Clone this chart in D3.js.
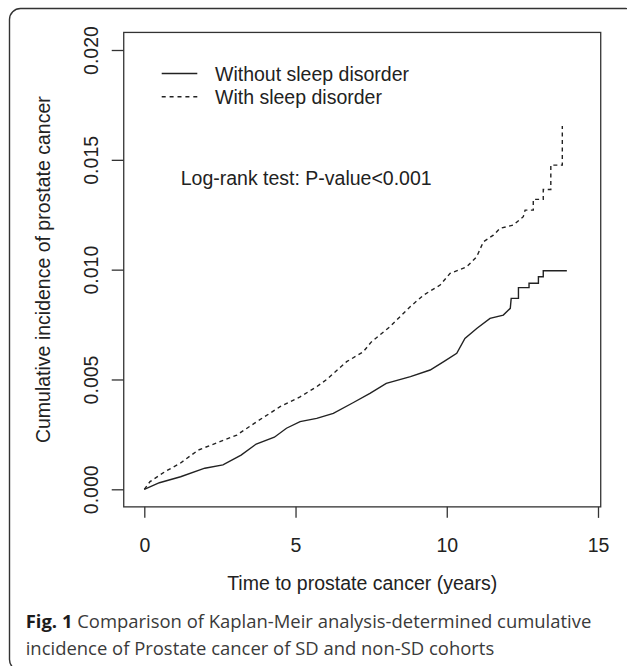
<!DOCTYPE html>
<html>
<head>
<meta charset="utf-8">
<script src="https://cdn.jsdelivr.net/npm/d3@7"></script>
<style>
  html, body { margin: 0; padding: 0; background: #fff; }
  svg { display: block; }
</style>
</head>
<body>
<svg id="chart" width="627" height="666"></svg>
<script>
// ---- data ----
// Without sleep disorder (solid)
const noSdTime = [0, 0.5, 1.2, 2.0, 2.6, 3.2, 3.7, 4.3, 4.7, 5.15, 5.7, 6.25, 6.9, 7.46, 8.0, 8.8, 9.45, 9.9, 10.33, 10.6, 11.0, 11.43, 11.87, 12.1, 12.13, 12.37, 12.37, 12.72, 12.72, 13.03, 13.03, 13.19, 13.19, 13.97];
const noSdValue = [0, 0.00030, 0.00057, 0.00096, 0.00111, 0.00156, 0.00206, 0.00237, 0.00278, 0.00308, 0.00323, 0.00346, 0.00394, 0.00437, 0.00482, 0.00513, 0.00543, 0.00581, 0.00619, 0.00687, 0.00733, 0.00778, 0.00793, 0.00824, 0.00869, 0.00869, 0.00918, 0.00918, 0.00938, 0.00938, 0.00968, 0.00968, 0.00995, 0.00995];
// With sleep disorder (dashed)
const sdTime = [0, 0.19, 0.68, 1.18, 1.79, 2.5, 3.06, 3.72, 4.49, 5.15, 5.7, 6.03, 6.69, 7.24, 7.5, 8.12, 8.79, 9.23, 9.78, 10.11, 10.66, 10.99, 11.21, 11.54, 11.76, 12.2, 12.53, 12.59, 12.86, 12.86, 13.19, 13.19, 13.44, 13.44, 13.82, 13.82];
const sdValue = [0, 0.00035, 0.00080, 0.00118, 0.00179, 0.00217, 0.00247, 0.00308, 0.00376, 0.00421, 0.00467, 0.00500, 0.00581, 0.00626, 0.00670, 0.00740, 0.00831, 0.00884, 0.00930, 0.00983, 0.01013, 0.01059, 0.01127, 0.01157, 0.01188, 0.01203, 0.01241, 0.01271, 0.01271, 0.01320, 0.01320, 0.01365, 0.01365, 0.01476, 0.01476, 0.01654];

const xTicks = [0, 5, 10, 15];
const yTicks = [0, 0.005, 0.010, 0.015, 0.020];
const legendLabels = ["Without sleep disorder", "With sleep disorder"];
const annotation = "Log-rank test: P-value<0.001";
const xTitle = "Time to prostate cancer (years)";
const yTitle = "Cumulative incidence of prostate cancer";
const captionBold = "Fig. 1";
const captionLine1 = " Comparison of Kaplan-Meir analysis-determined cumulative";
const captionLine2 = "incidence of Prostate cancer of SD and non-SD cohorts";

// ---- drawing ----
const svg = d3.select("#chart");
const FONT = "'Liberation Sans', Arial, Helvetica, sans-serif";
const FS = 19.5;
const INK = "#222";

const x = d3.scaleLinear().domain([0, 15]).range([144.3, 598]);
const y = d3.scaleLinear().domain([0, 0.02]).range([489.3, 50]);

// outer rounded frame
svg.append("rect")
  .attr("x", 9.5).attr("y", 8.5)
  .attr("width", 627).attr("height", 662)
  .attr("rx", 11).attr("ry", 11)
  .attr("fill", "none").attr("stroke", "#333").attr("stroke-width", 1.4);

// plot box
const bx0 = x(-0.68), bx1 = x(15.09), by0 = y(0.0208), by1 = y(-0.0008);
svg.append("rect")
  .attr("x", bx0).attr("y", by0)
  .attr("width", bx1 - bx0).attr("height", by1 - by0)
  .attr("fill", "none").attr("stroke", "#333").attr("stroke-width", 1.3);

// x axis
const xAxis = d3.axisBottom(x).tickValues(xTicks).tickFormat(d3.format("d"))
  .tickSize(11).tickSizeOuter(0).tickPadding(20);
const gx = svg.append("g").attr("transform", `translate(0,${by1})`).call(xAxis);
gx.select(".domain").remove();
gx.selectAll("line").attr("stroke", "#333").attr("stroke-width", 1.3);
gx.selectAll("text").attr("font-family", FONT).attr("font-size", FS).attr("fill", INK)
  .attr("dy", "0.71em").attr("y", 31);

// y axis
const yAxis = d3.axisLeft(y).tickValues(yTicks).tickFormat(d3.format(".3f"))
  .tickSize(12).tickSizeOuter(0);
const gy = svg.append("g").attr("transform", `translate(${bx0},0)`).call(yAxis);
gy.select(".domain").remove();
gy.selectAll("line").attr("stroke", "#333").attr("stroke-width", 1.3);
gy.selectAll("text")
  .attr("font-family", FONT).attr("font-size", FS).attr("fill", INK)
  .attr("x", null).attr("dy", null)
  .attr("text-anchor", "middle")
  .attr("transform", "translate(-25,0) rotate(-90)")
  .attr("dy", "-0.05em");

// axis titles
svg.append("text")
  .attr("x", (bx0 + bx1) / 2).attr("y", 590)
  .attr("text-anchor", "middle")
  .attr("font-family", FONT).attr("font-size", FS).attr("fill", INK)
  .text(xTitle);
svg.append("text")
  .attr("transform", `translate(50,${(by0 + by1) / 2}) rotate(-90)`)
  .attr("text-anchor", "middle")
  .attr("font-family", FONT).attr("font-size", FS).attr("fill", INK)
  .text(yTitle);

// curves
const line = d3.line().x(d => x(d[0])).y(d => y(d[1])).curve(d3.curveLinear);
const noSd = noSdTime.map((t, i) => [t, noSdValue[i]]);
const sd = sdTime.map((t, i) => [t, sdValue[i]]);
svg.append("path").datum(noSd).attr("d", line)
  .attr("fill", "none").attr("stroke", INK).attr("stroke-width", 1.4)
  .attr("stroke-linejoin", "miter");
svg.append("path").datum(sd).attr("d", line)
  .attr("fill", "none").attr("stroke", INK).attr("stroke-width", 1.4)
  .attr("stroke-dasharray", "4,3.5");

// legend
const legY = [73.5, 96.7];
legendLabels.forEach((lab, i) => {
  svg.append("line")
    .attr("x1", 161.7).attr("x2", 197.3).attr("y1", legY[i]).attr("y2", legY[i])
    .attr("stroke", INK).attr("stroke-width", 1.4)
    .attr("stroke-dasharray", i === 1 ? "4,3.9" : null);
  svg.append("text")
    .attr("x", 215).attr("y", legY[i] + 7)
    .attr("font-family", FONT).attr("font-size", FS).attr("fill", INK)
    .text(lab);
});

// annotation
svg.append("text")
  .attr("x", 180.7).attr("y", 185)
  .attr("font-family", FONT).attr("font-size", FS).attr("fill", INK)
  .text(annotation);

// caption
const CAPFONT = "'Open Sans', 'Noto Sans', sans-serif";
const cap1 = svg.append("text")
  .attr("x", 25.7).attr("y", 627.5)
  .attr("font-family", CAPFONT).attr("font-size", 20).attr("fill", "#3a3a3a");
cap1.append("tspan").attr("font-weight", "bold").attr("fill", "#1c1c1c").text(captionBold);
cap1.append("tspan").text(captionLine1);
const cap2 = svg.append("text")
  .attr("x", 25.7).attr("y", 654.5)
  .attr("font-family", CAPFONT).attr("font-size", 20).attr("fill", "#3a3a3a")
  .text(captionLine2);
// fit caption width to the reference (line 1 spans ~566px)
const w1 = cap1.node().getComputedTextLength();
const capFS = 20 * 566 / w1;
cap1.attr("font-size", capFS);
cap2.attr("font-size", capFS);
</script>
</body>
</html>
